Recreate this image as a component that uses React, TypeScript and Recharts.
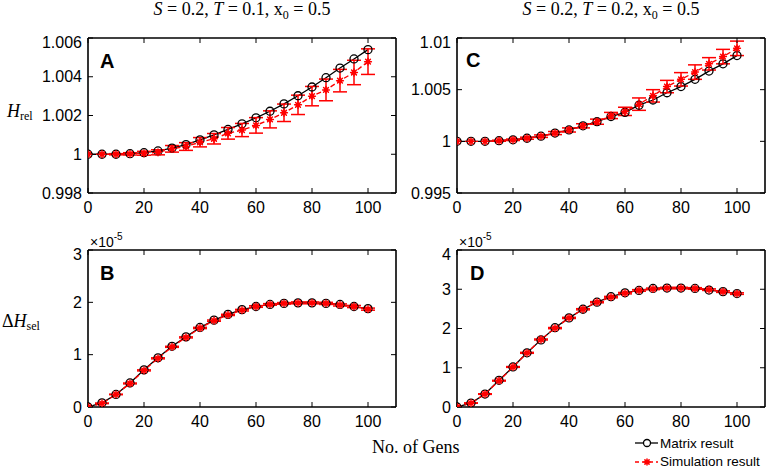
import React from 'react';
import { LineChart, Line, XAxis, YAxis, ErrorBar } from 'recharts';

// ---- data ----
const gens = [0, 5, 10, 15, 20, 25, 30, 35, 40, 45, 50, 55, 60, 65, 70, 75, 80, 85, 90, 95, 100];

const aMatrix = [1, 1, 1, 1.00003, 1.00008, 1.00017, 1.00032, 1.0005, 1.00074, 1.001, 1.00128, 1.00157, 1.00188, 1.00222, 1.0026, 1.00302, 1.00347, 1.00395, 1.00445, 1.00492, 1.0054];
const aSim = [1, 1, 1, 1.00002, 1.00005, 1.0001, 1.00028, 1.0004, 1.00062, 1.0008, 1.00108, 1.00125, 1.00149, 1.0018, 1.00214, 1.00255, 1.003, 1.00332, 1.0038, 1.00422, 1.00478];
const aErr = [0, 0, 0.00003, 0.00006, 0.0001, 0.00013, 0.00017, 0.0002, 0.00024, 0.00027, 0.0003, 0.00034, 0.0004, 0.00044, 0.00045, 0.0005, 0.0005, 0.00056, 0.00058, 0.00063, 0.00066];

const bMatrix = [0, 0.08, 0.24, 0.46, 0.71, 0.94, 1.16, 1.34, 1.52, 1.66, 1.77, 1.86, 1.92, 1.96, 1.98, 1.99, 1.99, 1.98, 1.96, 1.92, 1.88];
const bSim = [0, 0.07, 0.24, 0.45, 0.7, 0.93, 1.15, 1.33, 1.51, 1.65, 1.76, 1.85, 1.92, 1.96, 1.98, 1.99, 1.99, 1.98, 1.95, 1.92, 1.87];
const bErr = [0, 0.005, 0.005, 0.008, 0.01, 0.01, 0.01, 0.01, 0.012, 0.012, 0.012, 0.015, 0.015, 0.015, 0.015, 0.018, 0.018, 0.02, 0.02, 0.02, 0.02];

const cMatrix = [1, 1, 1, 1.00006, 1.00015, 1.0003, 1.0005, 1.0008, 1.0011, 1.0015, 1.0019, 1.0024, 1.0028, 1.0035, 1.004, 1.0047, 1.0053, 1.006, 1.0068, 1.0075, 1.0083];
const cSim = [1, 1, 1, 1.00006, 1.00015, 1.0003, 1.0005, 1.0008, 1.0011, 1.0015, 1.0019, 1.0025, 1.0029, 1.0036, 1.0044, 1.0053, 1.006, 1.0067, 1.0075, 1.0082, 1.009];
const cErr = [0, 0, 0, 0.00005, 0.00007, 0.0001, 0.00012, 0.00015, 0.0002, 0.0002, 0.00025, 0.0003, 0.0004, 0.0006, 0.0006, 0.0006, 0.00065, 0.0007, 0.0006, 0.0007, 0.0007];

const dMatrix = [0, 0.1, 0.33, 0.68, 1.02, 1.38, 1.71, 2.02, 2.27, 2.49, 2.67, 2.81, 2.91, 2.97, 3.02, 3.03, 3.03, 3.02, 2.98, 2.94, 2.89];
const dSim = [0, 0.1, 0.33, 0.67, 1.02, 1.38, 1.72, 2.01, 2.27, 2.49, 2.67, 2.8, 2.9, 2.97, 3.01, 3.03, 3.03, 3.02, 2.99, 2.94, 2.89];
const dErr = [0, 0.005, 0.008, 0.01, 0.01, 0.012, 0.012, 0.015, 0.015, 0.015, 0.015, 0.018, 0.018, 0.02, 0.02, 0.02, 0.02, 0.02, 0.02, 0.02, 0.02];

const genTicks = [0, 20, 40, 60, 80, 100];
const aTicks = [0.998, 1, 1.002, 1.004, 1.006];
const bTicks = [0, 1, 2, 3];
const cTicks = [0.995, 1, 1.005, 1.01];
const dTicks = [0, 1, 2, 3, 4];

const titleLeft = { S: '0.2', T: '0.1', x0: '0.5' };
const titleRight = { S: '0.2', T: '0.2', x0: '0.5' };

const SANS = "'Liberation Sans', Arial, Helvetica, sans-serif";
const SERIF = "'Liberation Serif', 'Times New Roman', serif";

function build(m: number[], s: number[], e: number[]) {
  return gens.map((g, i) => ({ gen: g, matrix: m[i], sim: s[i], err: e[i] }));
}

const fmt = (v: number) => String(Number(v.toFixed(3)));

const MatrixDot = (props: any) => {
  const { cx, cy, index } = props;
  if (cx == null || cy == null) return <g key={`m${index}`} />;
  return <circle key={`m${index}`} cx={cx} cy={cy} r={4} fill="none" stroke="#000" strokeWidth={1.3} />;
};

const Asterisk = ({ cx, cy, s = 3.4, r = 2.2 }: { cx: number; cy: number; s?: number; r?: number }) => {
  const d = s * 0.7071;
  return (
    <g stroke="#f00" strokeWidth={1.5} strokeLinecap="round">
      <circle cx={cx} cy={cy} r={r} fill="#f00" stroke="none" />
      <line x1={cx - s} y1={cy} x2={cx + s} y2={cy} />
      <line x1={cx} y1={cy - s} x2={cx} y2={cy + s} />
      <line x1={cx - d} y1={cy - d} x2={cx + d} y2={cy + d} />
      <line x1={cx - d} y1={cy + d} x2={cx + d} y2={cy - d} />
    </g>
  );
};

const SimDot = (props: any) => {
  const { cx, cy, index } = props;
  if (cx == null || cy == null) return <g key={`s${index}`} />;
  return (
    <g key={`s${index}`}>
      <Asterisk cx={cx} cy={cy} />
    </g>
  );
};

const tickStyle = { fill: '#000', fontSize: 16, fontFamily: SANS };
const AXIS_LINE = { stroke: '#000', strokeWidth: 1.6 };

const YW = 60;
const MT = 4;
const XH = 30;

function Panel({ plotLeft, plotTop, plotW, plotH, data, domain, ticks }: any) {
  const width = YW + plotW + 2;
  const height = MT + 1 + plotH + XH;
  return (
    <div style={{ position: 'absolute', left: plotLeft - YW, top: plotTop - MT - 1, width, height }}>
      <LineChart width={width} height={height} data={data} margin={{ top: MT, right: 1, left: 0, bottom: 0 }}>
        <XAxis
          dataKey="gen"
          type="number"
          domain={[0, 110]}
          ticks={genTicks}
          height={XH}
          tickSize={-5}
          tickMargin={14}
          tick={tickStyle}
          axisLine={AXIS_LINE}
          tickLine={{ stroke: '#000', strokeWidth: 1 }}
          allowDataOverflow
        />
        <XAxis
          xAxisId="top"
          orientation="top"
          dataKey="gen"
          type="number"
          domain={[0, 110]}
          ticks={genTicks}
          height={1}
          tickSize={-5}
          tickFormatter={() => ''}
          axisLine={AXIS_LINE}
          tickLine={{ stroke: '#000', strokeWidth: 1 }}
          allowDataOverflow
        />
        <YAxis
          type="number"
          domain={domain}
          ticks={ticks}
          width={YW}
          tickSize={-5}
          tickMargin={11}
          tick={tickStyle}
          tickFormatter={fmt}
          axisLine={AXIS_LINE}
          tickLine={{ stroke: '#000', strokeWidth: 1 }}
          allowDataOverflow
        />
        <YAxis
          yAxisId="right"
          orientation="right"
          type="number"
          domain={domain}
          ticks={ticks}
          width={1}
          tickSize={-5}
          tickFormatter={() => ''}
          axisLine={AXIS_LINE}
          tickLine={{ stroke: '#000', strokeWidth: 1 }}
          allowDataOverflow
        />
        <Line
          dataKey="matrix"
          type="linear"
          stroke="#000"
          strokeWidth={1.3}
          dot={MatrixDot}
          activeDot={false}
          isAnimationActive={false}
        />
        <Line
          dataKey="sim"
          type="linear"
          stroke="#f00"
          strokeWidth={1.4}
          strokeDasharray="5 3"
          dot={SimDot}
          activeDot={false}
          isAnimationActive={false}
        >
          <ErrorBar dataKey="err" direction="y" width={7} stroke="#f00" strokeWidth={1.5} isAnimationActive={false} />
        </Line>
      </LineChart>
    </div>
  );
}

function Title({ x, y, p }: { x: number; y: number; p: { S: string; T: string; x0: string } }) {
  return (
    <text x={x} y={y} textAnchor="middle" fontFamily={SERIF} fontSize={18} fill="#000">
      <tspan fontStyle="italic">S</tspan>
      <tspan>{` = ${p.S}, `}</tspan>
      <tspan fontStyle="italic">T</tspan>
      <tspan>{` = ${p.T}, x`}</tspan>
      <tspan fontSize={12} dy={4}>0</tspan>
      <tspan dy={-4}>{` = ${p.x0}`}</tspan>
    </text>
  );
}

export default function App() {
  const dataA = build(aMatrix, aSim, aErr);
  const dataB = build(bMatrix, bSim, bErr);
  const dataC = build(cMatrix, cSim, cErr);
  const dataD = build(dMatrix, dSim, dErr);
  return (
    <div style={{ position: 'absolute', left: 0, top: 0, width: 768, height: 468, background: '#fff', overflow: 'hidden' }}>
      <Panel plotLeft={88} plotTop={38} plotW={308} plotH={155} data={dataA} domain={[0.998, 1.006]} ticks={aTicks} />
      <Panel plotLeft={88} plotTop={250} plotW={308} plotH={157} data={dataB} domain={[0, 3]} ticks={bTicks} />
      <Panel plotLeft={457} plotTop={38} plotW={308} plotH={155} data={dataC} domain={[0.995, 1.01]} ticks={cTicks} />
      <Panel plotLeft={457} plotTop={250} plotW={308} plotH={157} data={dataD} domain={[0, 4]} ticks={dTicks} />
      <svg width={768} height={468} style={{ position: 'absolute', left: 0, top: 0, pointerEvents: 'none' }}>
        <Title x={242} y={15} p={titleLeft} />
        <Title x={611} y={15} p={titleRight} />
        <text x={7} y={117} fontFamily={SERIF} fontSize={18} fill="#000">
          <tspan fontStyle="italic">H</tspan>
          <tspan fontSize={12} dy={3}>rel</tspan>
        </text>
        <text x={2} y={327} fontFamily={SERIF} fontSize={18} fill="#000">
          <tspan>Δ</tspan>
          <tspan fontStyle="italic">H</tspan>
          <tspan fontSize={12} dy={3}>sel</tspan>
        </text>
        <text x={90} y={247} fontFamily={SANS} fontSize={14} fill="#000">
          <tspan>×10</tspan>
          <tspan fontSize={10} dy={-7}>-5</tspan>
        </text>
        <text x={459} y={247} fontFamily={SANS} fontSize={14} fill="#000">
          <tspan>×10</tspan>
          <tspan fontSize={10} dy={-7}>-5</tspan>
        </text>
        <text x={100} y={68} fontFamily={SANS} fontSize={20} fontWeight="bold" fill="#000">A</text>
        <text x={100} y={280} fontFamily={SANS} fontSize={20} fontWeight="bold" fill="#000">B</text>
        <text x={466} y={67} fontFamily={SANS} fontSize={20} fontWeight="bold" fill="#000">C</text>
        <text x={470} y={280} fontFamily={SANS} fontSize={20} fontWeight="bold" fill="#000">D</text>
        <text x={372} y={453} fontFamily={SERIF} fontSize={18} fill="#000">No. of Gens</text>
        <line x1={635} y1={443} x2={658} y2={443} stroke="#000" strokeWidth={1.3} />
        <circle cx={647} cy={443} r={3.5} fill="#fff" stroke="#000" strokeWidth={1.3} />
        <text x={660} y={448} fontFamily={SANS} fontSize={13.5} fill="#000">Matrix result</text>
        <line x1={635} y1={462} x2={658} y2={462} stroke="#f00" strokeWidth={1.4} strokeDasharray="4 3" />
        <Asterisk cx={647} cy={462} s={3} r={2} />
        <text x={660} y={466} fontFamily={SANS} fontSize={13.5} fill="#000">Simulation result</text>
      </svg>
    </div>
  );
}
